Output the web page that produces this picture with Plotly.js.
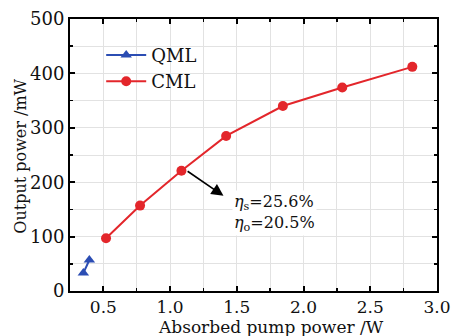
<!DOCTYPE html>
<html>
<head>
<meta charset="utf-8">
<script src="https://cdn.plot.ly/plotly-3.0.1.min.js"></script>
<style>html,body{margin:0;padding:0;background:#fff;}#chart{width:454px;height:336px;}</style>
</head>
<body>
<div id="chart"></div>
<script>
// Data
const qmlPump = [0.35, 0.395];
const qmlPower = [33, 57];
const cmlPump = [0.52, 0.775, 1.085, 1.42, 1.845, 2.29, 2.815];
const cmlPower = [97, 157, 221, 285, 340, 374, 412];
const seriesNames = ["QML", "CML"];
const efficiencyLabel = "<i>η</i><sub>s</sub>=25.6%<br><i>η</i><sub>o</sub>=20.5%";
const xTitle = "Absorbed pump power /W";
const yTitle = "Output power /mW";

const FONT = "DejaVu Serif, serif";
const traces = [
  {x: qmlPump, y: qmlPower, name: seriesNames[0], mode: "lines+markers",
   line: {color: "#2b4db3", width: 2},
   marker: {symbol: "triangle-up", size: 10, color: "#2b4db3"}},
  {x: cmlPump, y: cmlPower, name: seriesNames[1], mode: "lines+markers",
   line: {color: "#e3262b", width: 2},
   marker: {symbol: "circle", size: 10, color: "#e3262b"}}
];

const axisCommon = {
  showline: true, linecolor: "#000", linewidth: 2, mirror: "ticks",
  ticks: "inside", ticklen: 5, tickwidth: 2, tickcolor: "#000",
  showgrid: true, gridcolor: "#e2e2e2", gridwidth: 1, zeroline: false,
  tickfont: {family: FONT, size: 18, color: "#111"}
};

const layout = {
  width: 454, height: 336,
  margin: {l: 70, r: 17, t: 19, b: 45},
  paper_bgcolor: "#fff", plot_bgcolor: "#fff",
  font: {family: FONT, size: 16, color: "#111"},
  showlegend: true,
  legend: {x: 0.085, y: 0.935, xanchor: "left", yanchor: "top",
           bgcolor: "rgba(255,255,255,0)", font: {family: FONT, size: 18, color: "#111"},
           tracegroupgap: 0, itemwidth: 40},
  xaxis: Object.assign({}, axisCommon, {
    range: [0.25, 3.0], tick0: 0.5, dtick: 0.5, tickformat: ".1f",
    tickfont: {family: FONT, size: 17, color: "#111"},
    minor: {dtick: 0.25, tick0: 0.25, ticks: "inside", ticklen: 3, tickcolor: "#000", tickwidth: 1.5,
            showgrid: true, gridcolor: "#e2e2e2", gridwidth: 1}
  }),
  yaxis: Object.assign({}, axisCommon, {
    range: [0, 500], tick0: 0, dtick: 100,
    minor: {dtick: 50, ticks: "inside", ticklen: 3, tickcolor: "#000", tickwidth: 1.5,
            showgrid: true, gridcolor: "#e2e2e2", gridwidth: 1}
  }),
  annotations: [
    {xref: "x", yref: "y", x: 1.463, y: 143, text: efficiencyLabel, showarrow: false,
     xanchor: "left", yanchor: "middle", align: "left", bgcolor: "#fff",
     font: {family: FONT, size: 16, color: "#111"}},
    {xref: "x", yref: "y", axref: "x", ayref: "y", x: 1.40, y: 175, ax: 1.12, ay: 222,
     text: "", showarrow: true, arrowhead: 2, arrowsize: 1.5, arrowwidth: 1.6, arrowcolor: "#000"},
    {xref: "paper", yref: "paper", x: 0.548, y: -0.132, text: xTitle, showarrow: false,
     xanchor: "center", yanchor: "middle", font: {family: FONT, size: 17, color: "#111"}},
    {xref: "paper", yref: "paper", x: -0.1335, y: 0.494, text: yTitle, showarrow: false,
     textangle: -90, xanchor: "center", yanchor: "middle", font: {family: FONT, size: 16, color: "#111"}}
  ]
};

Plotly.newPlot("chart", traces, layout, {displayModeBar: false, staticPlot: true});
</script>
</body>
</html>
